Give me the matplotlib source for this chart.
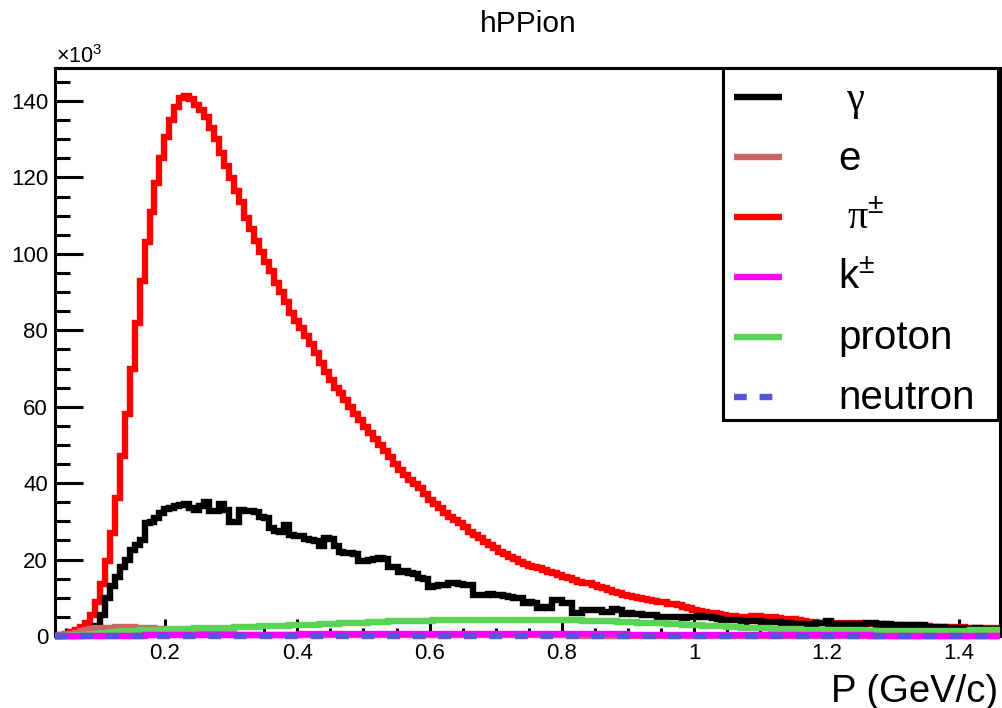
import numpy as np
import matplotlib
matplotlib.use("Agg")
import matplotlib.pyplot as plt
from matplotlib.patches import Rectangle
from matplotlib.lines import Line2D

plt.rcParams['font.family'] = ['Liberation Sans', 'DejaVu Sans']
plt.rcParams['mathtext.fontset'] = 'custom'
plt.rcParams['mathtext.rm'] = 'Liberation Sans'
plt.rcParams['mathtext.it'] = 'Liberation Sans:italic'
plt.rcParams['mathtext.bf'] = 'Liberation Sans:bold'

# ---------------- data (counts in units of 10^3) ----------------
x_min, x_max = 0.0336, 1.4625
n_bins = 190

pion = [
    0.1, 0.2, 0.5, 1.0, 1.6, 2.4, 3.3, 5.5, 9.0, 13.5,
    19.5, 27, 36, 47, 58, 70, 82, 93, 103, 111,
    118.5, 125, 130.5, 135, 138.5, 140.8, 141.4, 140.5, 139.0, 137.6,
    135.8, 133.0, 130.0, 126.5, 123.0, 119.8, 116.5, 113.5, 109.5, 106.5,
    103.5, 100.5, 98, 95.5, 92.5, 90, 87.5, 84.5, 82.5, 80.5,
    78.5, 76.5, 74, 71.5, 69, 67, 65, 63.5, 61.8, 60,
    58.2, 56.5, 54.8, 53, 51.5, 50, 48.4, 46.9, 45.1, 43.4,
    42.1, 40.8, 39.8, 38.7, 37.1, 35.6, 34.5, 33.4, 32.3, 31.2,
    30.3, 29.5, 28.4, 27.3, 26.4, 25.6, 24.7, 23.9, 23.0, 22.1,
    21.5, 20.8, 20.1, 19.4, 18.8, 18.3, 18.0, 17.7, 17.2, 16.8,
    16.4, 16.0, 15.5, 15.1, 14.6, 14.2, 14.0, 13.8, 13.3, 12.9,
    12.5, 12.0, 11.6, 11.2, 10.8, 10.5, 10.2, 9.9, 9.6, 9.4,
    9.2, 9.0, 8.8, 8.5, 8.3, 8.1, 7.7, 7.2, 6.9, 6.6,
    6.3, 6.1, 5.9, 5.8, 5.5, 5.3, 5.2, 5.1, 5.0, 5.0,
    5.2, 5.3, 5.0, 4.9, 4.9, 4.8, 4.5, 4.4, 4.4, 4.3,
    3.9, 3.7, 3.7, 3.5, 3.5, 3.4, 3.5, 3.3, 3.3, 3.3,
    3.2, 3.3, 3.2, 3.1, 3.1, 3.0, 3.1, 3.0, 2.9, 2.9,
    2.9, 2.8, 2.9, 2.8, 2.7, 2.5, 2.4, 2.4, 2.4, 2.3,
    2.4, 2.3, 2.3, 2.2, 2.2, 2.1, 2.2, 2.1, 2.1, 2.0,
]

gamma = [
    0, 0, 0, 0.1, 0.1, 0.2, 0.4, 0.8, 2.5, 5.5,
    10.0, 13.0, 15.5, 18.0, 20.0, 22.5, 23.8, 25.0, 29.5, 29.8,
    31.0, 32.3, 33.2, 33.5, 34.0, 34.4, 34.5, 33.6, 33.0, 34.0,
    35.0, 32.6, 32.7, 34.5, 33.0, 29.8, 29.9, 33.0, 32.6, 32.8,
    32.4, 31.2, 31.0, 28.2, 27.5, 27.3, 29.1, 26.5, 26.3, 26.1,
    25.4, 25.2, 24.8, 23.5, 25.7, 25.5, 23.5, 22.0, 21.8, 21.6,
    21.4, 19.6, 19.5, 19.9, 20.1, 20.3, 20.2, 18.1, 18.0, 16.8,
    16.9, 16.4, 16.3, 15.1, 15.0, 12.9, 13.0, 13.3, 13.4, 13.8,
    13.9, 13.6, 13.3, 13.4, 10.7, 10.8, 10.6, 10.9, 10.8, 10.6,
    10.4, 10.3, 10.0, 9.9, 8.7, 8.8, 8.6, 7.4, 7.5, 7.4,
    9.4, 9.3, 8.7, 8.6, 5.9, 6.0, 6.8, 6.9, 6.7, 6.8,
    6.4, 6.3, 7.0, 6.9, 5.8, 5.9, 5.7, 5.8, 5.5, 5.6,
    5.4, 4.9, 5.0, 4.9, 4.9, 5.0, 4.8, 4.9, 5.1, 5.2,
    5.0, 5.1, 4.6, 4.5, 4.2, 4.3, 4.2, 4.1, 3.7, 3.8,
    3.9, 3.9, 3.7, 3.7, 3.6, 3.7, 3.3, 3.3, 3.2, 3.1,
    3.1, 3.0, 3.1, 3.5, 3.4, 3.9, 3.1, 3.0, 3.1, 3.0,
    3.1, 3.0, 3.1, 3.5, 3.4, 3.1, 3.0, 3.1, 2.8, 2.7,
    2.8, 2.8, 3.0, 3.0, 2.9, 2.3, 2.3, 2.2, 2.3, 2.2,
    2.2, 2.1, 2.2, 1.9, 1.9, 2.0, 1.9, 1.9, 1.8, 1.9,
]

proton = [
    0.1, 0.1, 0.1, 0.2, 0.2, 0.3, 0.3, 0.4, 0.5, 0.7,
    0.8, 1.0, 1.1, 1.2, 1.3, 1.4, 1.4, 1.5, 1.5, 1.6,
    1.6, 1.7, 1.7, 1.8, 1.8, 1.8, 1.9, 1.9, 2.0, 2.0,
    2.0, 2.1, 2.1, 2.1, 2.2, 2.2, 2.3, 2.3, 2.4, 2.4,
    2.4, 2.5, 2.5, 2.6, 2.6, 2.7, 2.7, 2.8, 2.8, 2.9,
    2.9, 3.0, 3.0, 3.1, 3.1, 3.2, 3.2, 3.3, 3.3, 3.4,
    3.4, 3.5, 3.5, 3.6, 3.6, 3.7, 3.7, 3.8, 3.8, 3.8,
    3.9, 3.9, 3.9, 4.0, 4.0, 4.0, 4.1, 4.1, 4.1, 4.2,
    4.2, 4.2, 4.2, 4.3, 4.3, 4.3, 4.3, 4.3, 4.3, 4.3,
    4.3, 4.3, 4.3, 4.3, 4.3, 4.3, 4.3, 4.2, 4.2, 4.2,
    4.2, 4.2, 4.2, 4.1, 4.1, 4.1, 4.0, 4.0, 4.0, 3.9,
    3.9, 3.8, 3.8, 3.7, 3.7, 3.6, 3.6, 3.5, 3.5, 3.4,
    3.4, 3.3, 3.3, 3.2, 3.1, 3.1, 3.0, 2.9, 2.9, 2.8,
    2.7, 2.7, 2.6, 2.5, 2.5, 2.4, 2.3, 2.3, 2.2, 2.2,
    2.1, 2.1, 2.0, 2.0, 1.9, 1.9, 1.9, 1.8, 1.8, 1.8,
    1.7, 1.7, 1.7, 1.6, 1.6, 1.6, 1.6, 1.5, 1.5, 1.5,
    1.5, 1.5, 1.4, 1.4, 1.4, 1.4, 1.4, 1.4, 1.3, 1.3,
    1.3, 1.3, 1.3, 1.3, 1.3, 1.3, 1.3, 1.3, 1.3, 1.4,
    1.4, 1.4, 1.4, 1.4, 1.5, 1.5, 1.5, 1.5, 1.6, 1.6,
]

electron = [
    0.1, 0.2, 0.4, 0.6, 0.9, 1.2, 1.5, 1.8, 2.0, 2.1,
    2.2, 2.2, 2.3, 2.3, 2.3, 2.3, 2.2, 2.2, 2.1, 2.0,
    1.9, 1.8, 1.6, 1.2, 0.9, 0.7, 0.6, 0.5, 0.5, 0.45,
    0.45, 0.4, 0.4, 0.4, 0.4, 0.4, 0.38, 0.38, 0.36, 0.36,
    0.35, 0.35, 0.34, 0.34, 0.33, 0.33, 0.32, 0.32, 0.31, 0.31,
    0.30, 0.30, 0.29, 0.29, 0.28, 0.28, 0.27, 0.27, 0.26, 0.26,
    0.25, 0.25, 0.25, 0.24, 0.24, 0.24, 0.23, 0.23, 0.23, 0.22,
    0.22, 0.22, 0.21, 0.21, 0.21, 0.20, 0.20, 0.20, 0.20, 0.19,
    0.19, 0.19, 0.19, 0.18, 0.18, 0.18, 0.18, 0.17, 0.17, 0.17,
    0.17, 0.16, 0.16, 0.16, 0.16, 0.16, 0.15, 0.15, 0.15, 0.15,
    0.15, 0.14, 0.14, 0.14, 0.14, 0.14, 0.13, 0.13, 0.13, 0.13,
    0.13, 0.13, 0.12, 0.12, 0.12, 0.12, 0.12, 0.12, 0.11, 0.11,
    0.11, 0.11, 0.11, 0.11, 0.10, 0.10, 0.10, 0.10, 0.10, 0.10,
    0.10, 0.10, 0.09, 0.09, 0.09, 0.09, 0.09, 0.09, 0.09, 0.09,
    0.08, 0.08, 0.08, 0.08, 0.08, 0.08, 0.08, 0.08, 0.08, 0.08,
    0.07, 0.07, 0.07, 0.07, 0.07, 0.07, 0.07, 0.07, 0.07, 0.07,
    0.07, 0.07, 0.07, 0.07, 0.07, 0.06, 0.06, 0.06, 0.06, 0.06,
    0.06, 0.06, 0.06, 0.06, 0.06, 0.06, 0.06, 0.06, 0.06, 0.06,
    0.06, 0.06, 0.05, 0.05, 0.05, 0.05, 0.05, 0.05, 0.05, 0.05,
]

kaon = [
    0, 0, 0, 0, 0, 0, 0, 0, 0.01, 0.02,
    0.03, 0.05, 0.06, 0.08, 0.09, 0.10, 0.12, 0.13, 0.14, 0.16,
    0.17, 0.18, 0.19, 0.20, 0.21, 0.22, 0.23, 0.24, 0.25, 0.26,
    0.27, 0.28, 0.29, 0.30, 0.30, 0.31, 0.32, 0.33, 0.33, 0.34,
    0.35, 0.35, 0.36, 0.37, 0.37, 0.38, 0.38, 0.39, 0.39, 0.40,
    0.40, 0.41, 0.41, 0.42, 0.42, 0.42, 0.43, 0.43, 0.44, 0.44,
    0.44, 0.45, 0.45, 0.45, 0.46, 0.46, 0.46, 0.47, 0.47, 0.47,
    0.47, 0.48, 0.48, 0.48, 0.48, 0.48, 0.49, 0.49, 0.49, 0.49,
    0.49, 0.49, 0.50, 0.50, 0.50, 0.50, 0.50, 0.50, 0.50, 0.50,
    0.50, 0.50, 0.50, 0.49, 0.49, 0.49, 0.49, 0.49, 0.48, 0.48,
    0.48, 0.47, 0.47, 0.46, 0.46, 0.45, 0.45, 0.44, 0.44, 0.43,
    0.43, 0.42, 0.41, 0.41, 0.40, 0.39, 0.39, 0.38, 0.37, 0.37,
    0.36, 0.35, 0.35, 0.34, 0.33, 0.33, 0.32, 0.31, 0.31, 0.30,
    0.29, 0.29, 0.28, 0.27, 0.27, 0.26, 0.26, 0.25, 0.24, 0.24,
    0.23, 0.23, 0.22, 0.22, 0.21, 0.21, 0.20, 0.20, 0.19, 0.19,
    0.18, 0.18, 0.18, 0.17, 0.17, 0.16, 0.16, 0.16, 0.15, 0.15,
    0.15, 0.14, 0.14, 0.14, 0.13, 0.13, 0.13, 0.13, 0.12, 0.12,
    0.12, 0.12, 0.11, 0.11, 0.11, 0.11, 0.11, 0.10, 0.10, 0.10,
    0.10, 0.10, 0.10, 0.09, 0.09, 0.09, 0.09, 0.09, 0.09, 0.08,
]

neutron = [
    0.00, 0.00, 0.01, 0.01, 0.02, 0.02, 0.03, 0.03, 0.04, 0.04,
    0.05, 0.05, 0.05, 0.06, 0.06, 0.06, 0.06, 0.06, 0.06, 0.06,
    0.06, 0.06, 0.06, 0.06, 0.06, 0.06, 0.06, 0.06, 0.06, 0.06,
    0.06, 0.06, 0.06, 0.06, 0.06, 0.06, 0.06, 0.06, 0.06, 0.06,
    0.06, 0.06, 0.06, 0.06, 0.06, 0.06, 0.06, 0.06, 0.06, 0.06,
    0.06, 0.06, 0.06, 0.06, 0.06, 0.06, 0.06, 0.06, 0.06, 0.06,
    0.06, 0.06, 0.06, 0.06, 0.06, 0.06, 0.06, 0.06, 0.05, 0.05,
    0.05, 0.05, 0.05, 0.05, 0.05, 0.05, 0.05, 0.05, 0.05, 0.05,
    0.05, 0.05, 0.05, 0.05, 0.05, 0.05, 0.05, 0.05, 0.05, 0.05,
    0.05, 0.05, 0.05, 0.05, 0.05, 0.05, 0.05, 0.05, 0.05, 0.05,
    0.04, 0.04, 0.04, 0.04, 0.04, 0.04, 0.04, 0.04, 0.04, 0.04,
    0.04, 0.04, 0.04, 0.04, 0.04, 0.04, 0.04, 0.04, 0.04, 0.04,
    0.04, 0.04, 0.04, 0.04, 0.04, 0.04, 0.04, 0.04, 0.04, 0.04,
    0.03, 0.03, 0.03, 0.03, 0.03, 0.03, 0.03, 0.03, 0.03, 0.03,
    0.03, 0.03, 0.03, 0.03, 0.03, 0.03, 0.03, 0.03, 0.03, 0.03,
    0.03, 0.03, 0.03, 0.03, 0.03, 0.03, 0.03, 0.03, 0.03, 0.03,
    0.03, 0.03, 0.03, 0.03, 0.03, 0.03, 0.03, 0.03, 0.03, 0.03,
    0.02, 0.02, 0.02, 0.02, 0.02, 0.02, 0.02, 0.02, 0.02, 0.02,
    0.02, 0.02, 0.02, 0.02, 0.02, 0.02, 0.02, 0.02, 0.02, 0.02,
]

labels = ["γ", "e", "π", "k", "proton", "neutron"]
# -----------------------------------------------------------------

W, H = 1002, 708
fig = plt.figure(figsize=(W / 100, H / 100), dpi=100)
ax = fig.add_axes([55 / W, 1 - 636 / H, 945 / W, 568 / H])

edges = np.linspace(x_min, x_max, n_bins + 1)
LW = 4.6
C_RED, C_BLACK = '#ff0000', '#000000'
C_E, C_K, C_P, C_N = '#cc6666', '#ff00ff', '#59d454', '#5954d9'

series = [
    (pion, C_RED, '-', 3),
    (gamma, C_BLACK, '-', 4),
    (electron, C_E, '-', 5),
    (proton, C_P, '-', 6),
    (kaon, C_K, '-', 7),
    (neutron, C_N, (0, (2.0, 2.0)), 8),
]
for vals, col, ls, z in series:
    p = ax.stairs(vals, edges, baseline=None, color=col, lw=LW,
                  linestyle=ls, zorder=z, clip_on=False)
    p.set_joinstyle('miter')

ax.set_xlim(x_min, x_max)
ax.set_ylim(0, 148.65)

ax.set_xticks([0.2, 0.4, 0.6, 0.8, 1.0, 1.2, 1.4])
ax.set_xticklabels(['0.2', '0.4', '0.6', '0.8', '1', '1.2', '1.4'])
ax.set_xticks(np.arange(0.05, 1.46, 0.05), minor=True)
ax.set_yticks(np.arange(0, 141, 20))
ax.set_yticklabels([str(v) for v in range(0, 141, 20)])
ax.set_yticks(np.arange(0, 148, 5), minor=True)

ax.tick_params(axis='both', which='both', direction='in', width=2.2,
               color='black', top=False, right=False)
ax.tick_params(axis='x', which='major', length=12.2, labelsize=16, pad=5)
ax.tick_params(axis='x', which='minor', length=6.1)
ax.tick_params(axis='y', which='major', length=20.2, labelsize=16, pad=5)
ax.tick_params(axis='y', which='minor', length=10.8)
for sp in ax.spines.values():
    sp.set_linewidth(2.2)
    sp.set_zorder(1.5)

# overlay axes in pixel coordinates for annotations and legend
ov = fig.add_axes([0, 0, 1, 1], zorder=20)
ov.set_xlim(0, W)
ov.set_ylim(H, 0)
ov.axis('off')
ov.patch.set_alpha(0)

ov.text(528.5, 32, 'hPPion', fontsize=21.5, ha='center', va='baseline')
ov.text(56, 63, '×10$^{3}$', fontsize=15.5, ha='left', va='baseline')
ov.text(998, 702, 'P (GeV/c)', fontsize=27.5, ha='right', va='baseline')

# legend box
ov.add_patch(Rectangle((723, 68), 275, 352, facecolor='white',
                       edgecolor='black', lw=2.2, zorder=1))
row_y = [97, 157, 217, 277, 337, 397]
cols = [C_BLACK, C_E, C_RED, C_K, C_P, C_N]
styles = ['-', '-', '-', '-', '-', (0, (2.0, 2.0))]
for yc, col, ls in zip(row_y, cols, styles):
    ov.add_line(Line2D([734, 782], [yc, yc], color=col, lw=LW,
                       linestyle=ls, solid_capstyle='butt',
                       dash_capstyle='butt', zorder=2))

FS = 29
ov.text(847, 110, labels[0], fontsize=FS, ha='left', va='baseline',
        family=['Liberation Serif', 'DejaVu Serif'], zorder=3)
ov.text(838, 170, labels[1], fontsize=FS, ha='left', va='baseline', zorder=3)
ov.text(847, 229, labels[2] + '$^{\\pm}$', fontsize=FS, ha='left',
        va='baseline', family=['Liberation Serif', 'DejaVu Serif'], zorder=3)
ov.text(838, 289, labels[3] + '$^{\\pm}$', fontsize=FS, ha='left',
        va='baseline', zorder=3)
ov.text(838, 349, labels[4], fontsize=FS, ha='left', va='baseline', zorder=3)
ov.text(838, 409, labels[5], fontsize=FS, ha='left', va='baseline', zorder=3)

fig.savefig('out.png', dpi=100)
